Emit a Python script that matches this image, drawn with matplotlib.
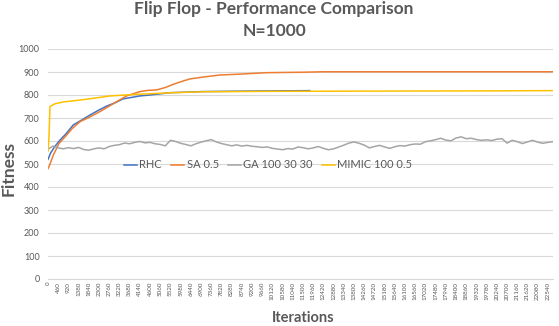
import numpy as np
import matplotlib
matplotlib.use('Agg')
import matplotlib.pyplot as plt

plt.rcParams['font.family'] = ['Lato', 'DejaVu Sans']

# curves (iteration, fitness)
rhc_it = [0, 120, 300, 541, 800, 1141, 1500, 1894, 2300, 2647, 3000, 3381, 3800, 4148, 4600, 5500, 7000, 9000, 11800]
rhc_fit = [520, 548, 575, 604, 630, 670, 690, 713, 735, 752, 765, 783, 790, 796, 800, 810, 815, 817, 819]

sa_it = [0, 60, 240, 500, 843, 1100, 1443, 1900, 2344, 2700, 3097, 3548, 4148, 4500, 4901, 5300, 5636, 6000, 6402, 7000, 7755, 8500, 9860, 10600, 11497, 12400, 22770]
sa_fit = [480, 492, 539, 590, 626, 655, 684, 705, 728, 748, 771, 796, 815, 820, 822, 833, 846, 858, 870, 878, 887, 890, 897, 898, 899, 901, 901]

ga_it = list(range(0, 22771, 230))
ga_fit = [565, 578, 570, 566, 571, 567, 572, 563, 560, 566,
          570, 566, 576, 581, 584, 591, 588, 594, 598, 592,
          594, 588, 585, 579, 603, 598, 590, 585, 579, 588,
          595, 601, 606, 596, 589, 584, 579, 583, 578, 581,
          577, 575, 572, 574, 568, 565, 562, 567, 565, 574,
          571, 566, 570, 576, 568, 562, 566, 574, 582, 591,
          596, 590, 582, 570, 576, 581, 574, 568, 575, 580,
          578, 584, 587, 586, 597, 601, 606, 612, 604, 601,
          613, 618, 610, 612, 606, 603, 605, 602, 608, 610,
          591, 603, 597, 589, 596, 603, 595, 590, 594, 597]

mimic_it = [0, 45, 90, 315, 700, 1440, 2000, 2800, 4000, 5640, 7000, 10000, 15000, 20000, 22770]
mimic_fit = [555, 620, 750, 762, 770, 778, 785, 796, 803, 810, 814, 816, 817, 818, 819]

tick_pos = list(range(0, 22541, 460))

grey = '#595959'
fig = plt.figure(figsize=(5.59, 3.26), dpi=100)
ax = fig.add_axes([48/559, 1-279/326, 505/559, 230/326])

ax.plot(rhc_it, rhc_fit, color='#4472C4', lw=1.1, label='RHC')
ax.plot(sa_it, sa_fit, color='#ED7D31', lw=1.1, label='SA 0.5')
ax.plot(ga_it, ga_fit, color='#A5A5A5', lw=1.1, label='GA 100 30 30')
ax.plot(mimic_it, mimic_fit, color='#FFC000', lw=1.1, label='MIMIC 100 0.5')

ax.set_xlim(0, 22770)
ax.set_ylim(0, 1000)
ax.set_yticks(range(0, 1001, 100))
ax.set_xticks(tick_pos)
ax.set_xticklabels([str(t) for t in tick_pos], rotation=90, fontsize=4.5, color=grey)
ax.tick_params(axis='y', labelsize=6.5, labelcolor=grey, length=0, pad=6)
ax.tick_params(axis='x', length=0, pad=2)
ax.grid(axis='y', color='#D9D9D9', lw=0.8)
ax.set_axisbelow(True)
for s in ['top', 'right', 'left']:
    ax.spines[s].set_visible(False)
ax.spines['bottom'].set_color('#D9D9D9')

fig.text(274/559, 1-9/326, 'Flip Flop - Performance Comparison', ha='center', va='center',
         fontsize=12.5, fontweight='bold', color=grey)
fig.text(274/559, 1-31/326, 'N=1000', ha='center', va='center',
         fontsize=12.5, fontweight='bold', color=grey)
fig.text(9/559, 1-169/326, 'Fitness', rotation=90, ha='center', va='center',
         fontsize=12.5, fontweight='bold', color=grey)
fig.text(303/559, 1-318/326, 'Iterations', ha='center', va='center',
         fontsize=10.5, fontweight='bold', color=grey)

leg = fig.legend(loc='center', bbox_to_anchor=(268/559, 1-165/326), ncol=4, frameon=False,
                 fontsize=8, handlelength=1.2, handletextpad=0.2, columnspacing=0.8)
for t in leg.get_texts():
    t.set_color(grey)

fig.savefig('out.png', dpi=100)
